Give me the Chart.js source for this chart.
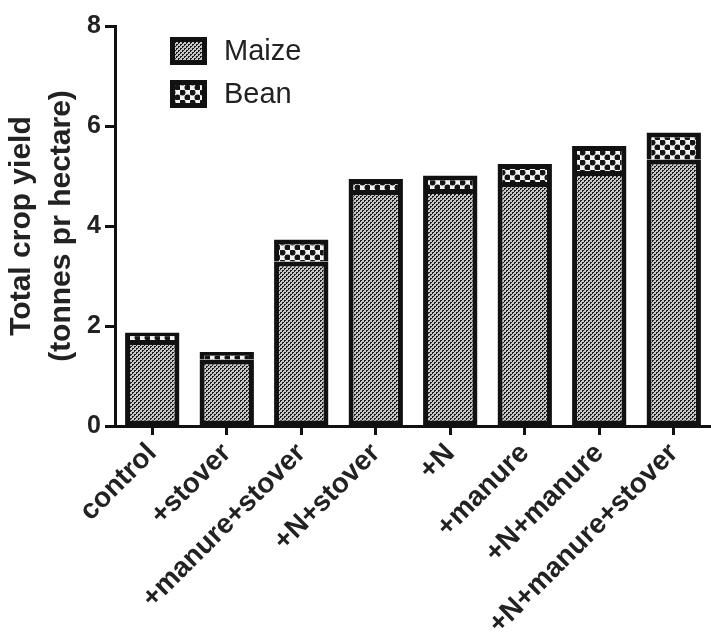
<!DOCTYPE html>
<html>
<head>
<meta charset="utf-8">
<script src="https://cdn.jsdelivr.net/npm/chart.js@4/dist/chart.umd.min.js"></script>
<style>
  html, body { margin: 0; padding: 0; background: #fff; }
  #wrap { width: 711px; height: 640px; }
</style>
</head>
<body>
<div id="wrap"><canvas id="yield"></canvas></div>
<script>
const treatments = ['control', '+stover', '+manure+stover', '+N+stover', '+N', '+manure', '+N+manure', '+N+manure+stover'];
const maize = [1.72, 1.33, 3.29, 4.72, 4.74, 4.88, 5.10, 5.33];
const bean = [0.15, 0.15, 0.44, 0.22, 0.27, 0.36, 0.50, 0.54];
const yTicks = [0, 2, 4, 6, 8];

// fine grey speckle for maize
function maizePattern() {
    const c = document.createElement('canvas');
    c.width = 4; c.height = 4;
    const g = c.getContext('2d');
    g.fillStyle = '#c6c6c6';
    g.fillRect(0, 0, 4, 4);
    g.fillStyle = '#1e1e1e';
    g.fillRect(0, 0, 2, 1); g.fillRect(0, 1, 1, 1);
    g.fillRect(2, 2, 2, 1); g.fillRect(2, 3, 1, 1);
    return g.createPattern(c, 'repeat');
}

// coarse black/white checker dots for bean
function beanPattern() {
    const c = document.createElement('canvas');
    c.width = 10; c.height = 10;
    const g = c.getContext('2d');
    g.fillStyle = '#f4f4f4';
    g.fillRect(0, 0, 10, 10);
    g.fillStyle = '#151515';
    g.beginPath(); g.arc(2.5, 2.5, 3, 0, Math.PI * 2); g.fill();
    g.beginPath(); g.arc(7.5, 7.5, 3, 0, Math.PI * 2); g.fill();
    return g.createPattern(c, 'repeat');
}

const boxLegend = {
    id: 'boxLegend',
    afterDraw(chart) {
        const ctx = chart.ctx;
        const a = chart.chartArea;
        ctx.save();
        chart.data.datasets.forEach((ds, i) => {
            const x = a.left + 55, y = a.top + 11 + i * 43;
            ctx.fillStyle = ds.backgroundColor;
            ctx.fillRect(x, y, 37, 28);
            ctx.lineWidth = 5;
            ctx.strokeStyle = '#111';
            ctx.strokeRect(x + 2.5, y + 2.5, 32, 23);
            ctx.fillStyle = '#222';
            ctx.font = '29px "Liberation Sans", Arial, sans-serif';
            ctx.textBaseline = 'middle';
            ctx.fillText(ds.label, x + 54, y + 15);
        });
        ctx.restore();
    }
};

const ctx = document.getElementById('yield').getContext('2d');
new Chart(ctx, {
    type: 'bar',
    data: {
        labels: treatments,
        datasets: [
            {
                label: 'Maize',
                data: maize,
                backgroundColor: maizePattern(),
                borderColor: '#111',
                borderWidth: 5,
                borderSkipped: false,
                inflateAmount: 0
            },
            {
                label: 'Bean',
                data: bean,
                backgroundColor: beanPattern(),
                borderColor: '#111',
                borderWidth: 5,
                borderSkipped: 'bottom',
                inflateAmount: 0
            }
        ]
    },
    options: {
        responsive: true,
        maintainAspectRatio: false,
        animation: false,
        layout: { padding: { top: 26, right: 0, left: 0, bottom: 0 } },
        datasets: { bar: { barPercentage: 0.73, categoryPercentage: 1 } },
        plugins: {
            legend: { display: false },
            tooltip: { enabled: false }
        },
        scales: {
            x: {
                stacked: true,
                grid: { drawOnChartArea: false, offset: false, tickLength: 9, tickWidth: 3, tickColor: '#111' },
                border: { color: '#111', width: 3 },
                ticks: {
                    color: '#222',
                    minRotation: 45,
                    maxRotation: 45,
                    padding: 2,
                    font: { family: '"Liberation Sans", Arial, sans-serif', size: 28, weight: 'bold' }
                },
                afterFit(scale) { scale.height = 214; }
            },
            y: {
                stacked: true,
                min: 0,
                max: 8,
                afterBuildTicks(scale) { scale.ticks = yTicks.map(v => ({ value: v })); },
                grid: { drawOnChartArea: false, tickLength: 10, tickWidth: 3, tickColor: '#111' },
                border: { color: '#111', width: 3 },
                ticks: {
                    color: '#222',
                    padding: 4,
                    font: { family: '"Liberation Sans", Arial, sans-serif', size: 25, weight: 'bold' }
                },
                title: {
                    display: true,
                    text: ['Total crop yield', '(tonnes pr hectare)'],
                    color: '#222',
                    padding: { top: 2, bottom: 0 },
                    font: { family: '"Liberation Sans", Arial, sans-serif', size: 30, weight: 'bold', lineHeight: 1.33 }
                },
                afterFit(scale) { scale.width = 115; }
            }
        }
    },
    plugins: [boxLegend]
});
</script>
</body>
</html>
